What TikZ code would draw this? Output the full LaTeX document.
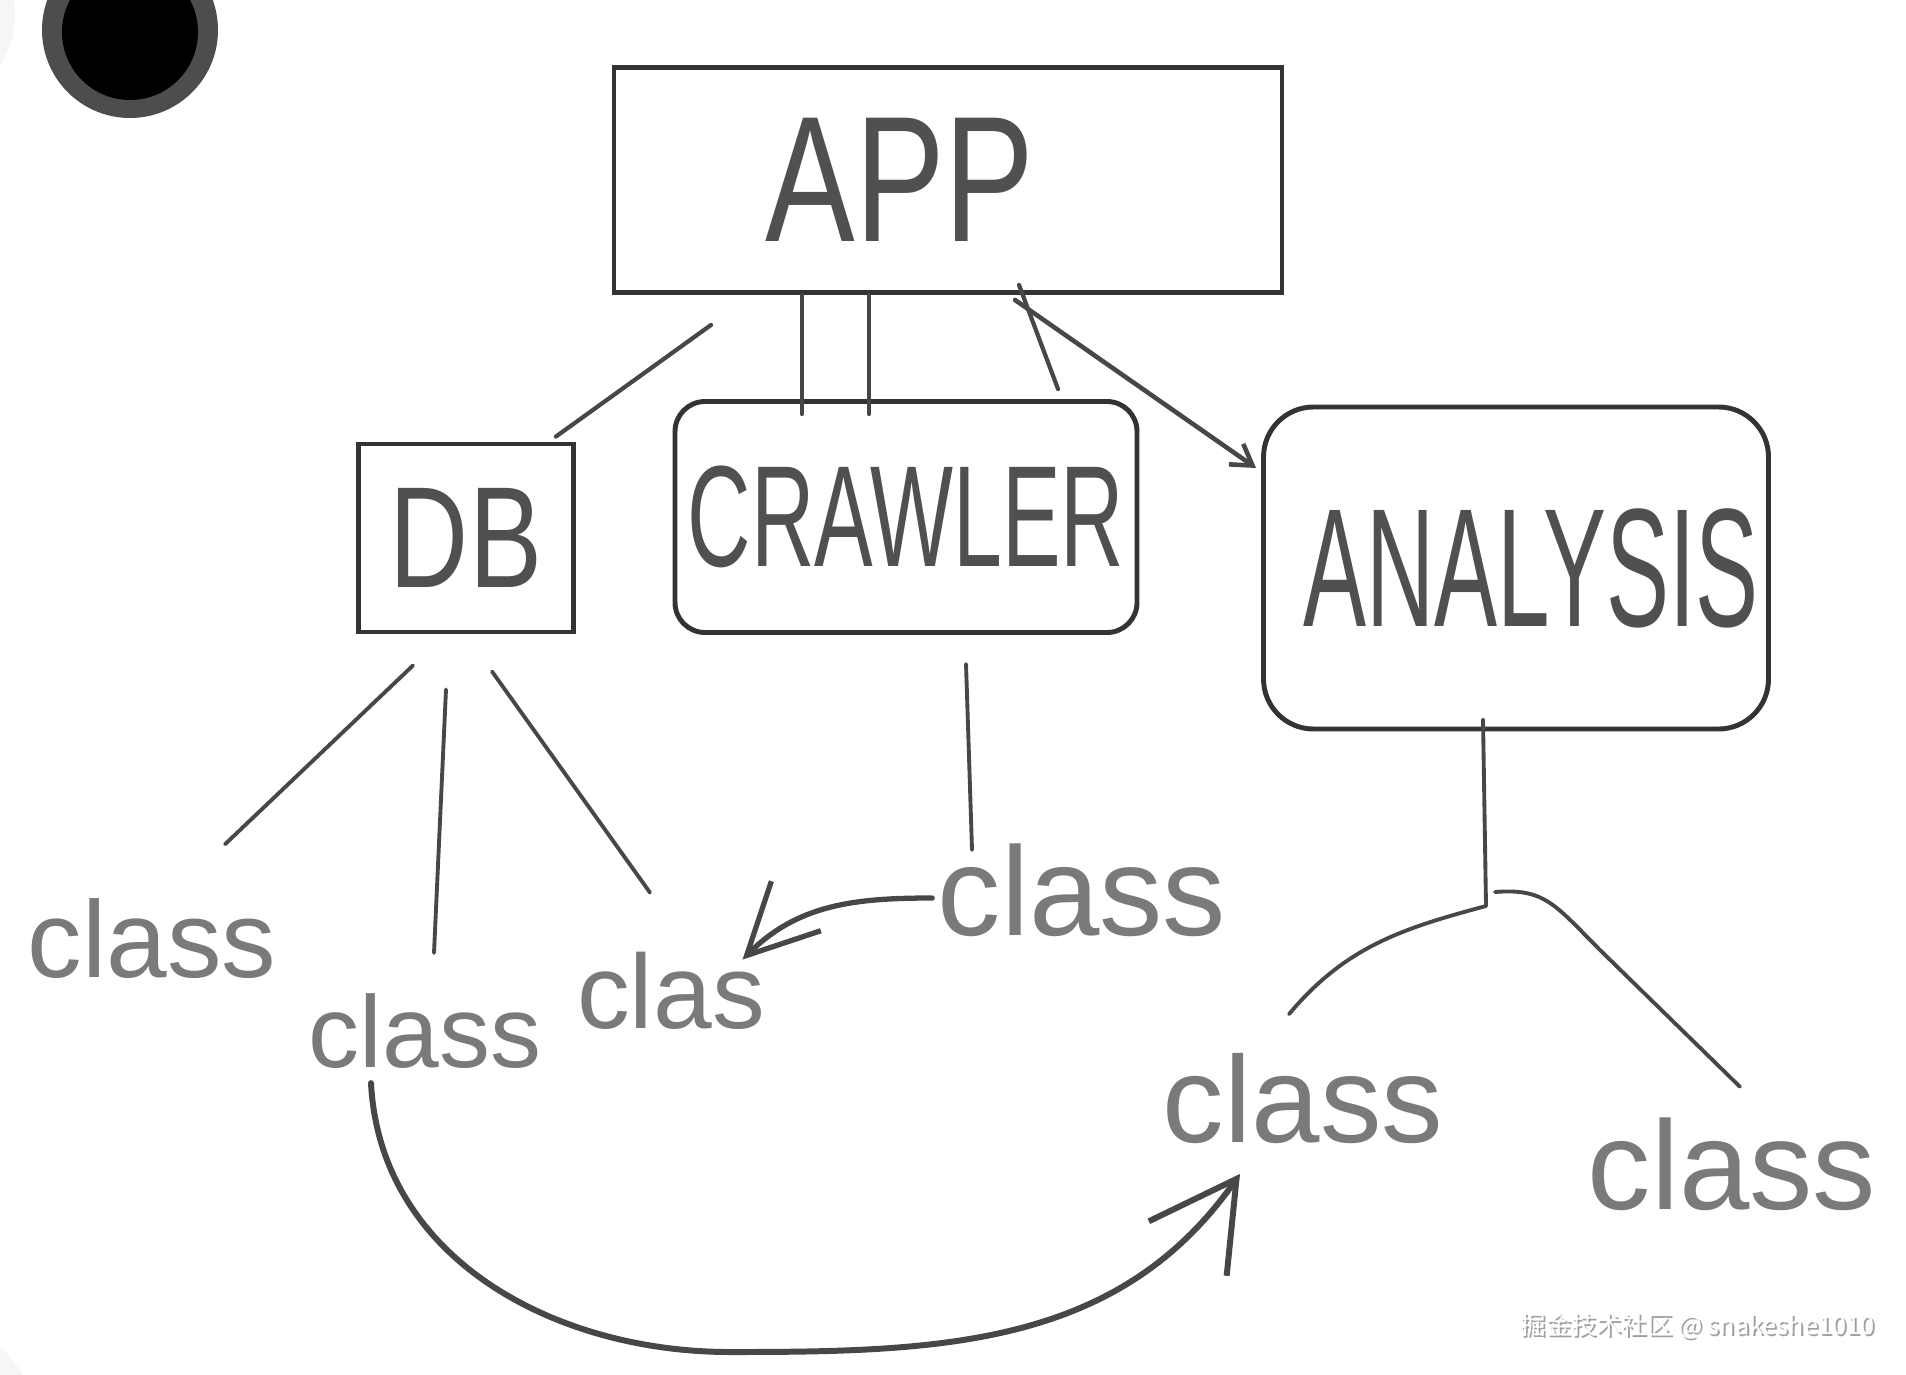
\documentclass[tikz,border=0pt]{standalone}
\usepackage{fontspec}
\setmainfont{Liberation Sans}
\newfontfamily\cjkfont{Noto Sans CJK SC}
\usepackage{graphicx}
\usetikzlibrary{arrows.meta}
\definecolor{penDark}{HTML}{333333}
\definecolor{penMid}{HTML}{474747}
\definecolor{penText}{HTML}{505050}
\definecolor{penLight}{HTML}{7A7A7A}
\definecolor{btnRing}{HTML}{4D4D4D}
\newcommand{\handTxt}[3]{\fontsize{#1}{#1}\selectfont\scalebox{#2}[1]{#3}}
\newcommand{\handSize}[1]{\fontsize{#1}{#1}\selectfont}

\begin{document}
\begin{tikzpicture}
\tikzset{
    archBox/.style={rectangle,draw=penDark,line width=1.4pt,inner sep=0pt,text=penText},
    archClass/.style={inner sep=0pt,text=penLight},
    archLink/.style={draw=penMid,line width=1.1pt,line cap=round},
    archArrow/.style={archLink,line width=1.5pt,-{Straight Barb[length=7mm,width=7mm]}},
}
\useasboundingbox (0,0) rectangle (19.06,-13.74);

% recorder button and faint shapes at the edges
\fill[gray!7] (-0.75,-0.15) circle (0.9);
\fill[gray!7] (-0.9,-14.4) circle (1.3);
\fill[btnRing] (1.30,-0.30) circle (0.88);
\fill[black] (1.30,-0.32) circle (0.68);

% modules
\node[archBox,minimum width=6.68cm,minimum height=2.25cm] (app) at (9.48,-1.80) {\hspace*{-0.96cm}\handTxt{51pt}{0.75}{APP}};
\node[archBox,minimum width=2.15cm,minimum height=1.88cm] (db) at (4.66,-5.38) {\handTxt{41pt}{0.76}{DB}};
\node[archBox,rounded corners=3mm,minimum width=4.62cm,minimum height=2.31cm] (crawler) at (9.06,-5.17) {\handTxt{41pt}{0.61}{CRAWLER}};
\node[archBox,rounded corners=5mm,minimum width=5.05cm,minimum height=3.22cm] (analysis) at (15.16,-5.68) {\hspace*{0.3cm}\handTxt{48pt}{0.56}{ANALYSIS}};

% classes
\node[archClass,font=\handSize{31pt}] (c1) at (1.52,-9.39) {class};
\node[archClass,font=\handSize{29pt}] (c2) at (4.25,-10.31) {class};
\node[archClass,font=\handSize{30pt}] (c3) at (6.71,-9.91) {clas};
\node[archClass,font=\handSize{36pt}] (c4) at (10.82,-8.90) {class};
\node[archClass,font=\handSize{35pt}] (c5) at (13.03,-10.99) {class};
\node[archClass,font=\handSize{36pt}] (c6) at (17.32,-11.64) {class};

% app to modules
\draw[archLink,line width=1.2pt] ([xshift=-23.7mm,yshift=-3mm]app.south) -- ([xshift=-2mm,yshift=0.5mm]db.north east);
\draw[archLink,line width=1.2pt] ([xshift=-10.4mm]crawler.north |- app.south) -- ([xshift=-10.4mm,yshift=-1.5mm]crawler.north);
\draw[archLink,line width=1.2pt] ([xshift=-3.7mm]crawler.north |- app.south) -- ([xshift=-3.7mm,yshift=-1.5mm]crawler.north);
\draw[archLink,line width=1.2pt] ([xshift=7.1mm,yshift=1mm]app.south) -- ([xshift=15.2mm,yshift=1mm]crawler.north);
\draw[archLink,line width=1.3pt,-{Straight Barb[length=2mm,width=2.5mm]}] ([xshift=6.7mm,yshift=-0.5mm]app.south) -- ([xshift=-0.5mm,yshift=10mm]analysis.west);

% modules to classes
\draw[archLink] ([xshift=-5.3mm,yshift=-3.1mm]db.south) -- ([xshift=7.3mm,yshift=5.4mm]c1.north);
\draw[archLink] ([xshift=-2mm,yshift=-5.5mm]db.south) -- ([xshift=0.9mm,yshift=4mm]c2.north);
\draw[archLink] ([xshift=2.6mm,yshift=-3.7mm]db.south) -- ([xshift=-2.1mm,yshift=5.9mm]c3.north);
\draw[archLink] ([xshift=6mm,yshift=-2.9mm]crawler.south) -- ([xshift=-11mm,yshift=-0.7mm]c4.north);

\coordinate (fork) at (14.86,-9.06);
\coordinate (bendR) at (16.0,-9.5);
\draw[archLink] ([xshift=-3.3mm,yshift=1.2mm]analysis.south) -- (fork);
\draw[archLink] (fork) to[out=195,in=50] ([xshift=-1.4mm,yshift=3.9mm]c5.north);
\draw[archLink] ([xshift=0.9mm,yshift=1.4mm]fork) .. controls (15.45,-8.88) and (15.55,-9.05) .. (bendR) -- ([xshift=0.8mm,yshift=3mm]c6.north);

% calls between classes
\draw[archArrow] ([xshift=-0.5mm,yshift=-0.8mm]c4.west) to[out=180,in=45] ([xshift=-2.3mm,yshift=-0.8mm]c3.north east);
\coordinate (dip) at (7.3,-13.52);
\draw[archArrow,line width=1.7pt,-{Straight Barb[length=8.5mm,width=9.5mm]}] ([xshift=-5.4mm,yshift=-1.4mm]c2.south) to[out=-87,in=180] (dip) to[out=0,in=-125] ([xshift=-6.3mm,yshift=-2.9mm]c5.south);

% watermark
\node[text=gray!75,font=\cjkfont\fontsize{7.2pt}{8pt}\selectfont,anchor=west,inner sep=0pt] (markShade) at (15.22,-13.28) {掘金技术社区 @ snakeshe1010};
\node[text=white,font=\cjkfont\fontsize{7.2pt}{8pt}\selectfont,anchor=west,inner sep=0pt] (mark) at (15.20,-13.26) {掘金技术社区 @ snakeshe1010};
\end{tikzpicture}
\end{document}
